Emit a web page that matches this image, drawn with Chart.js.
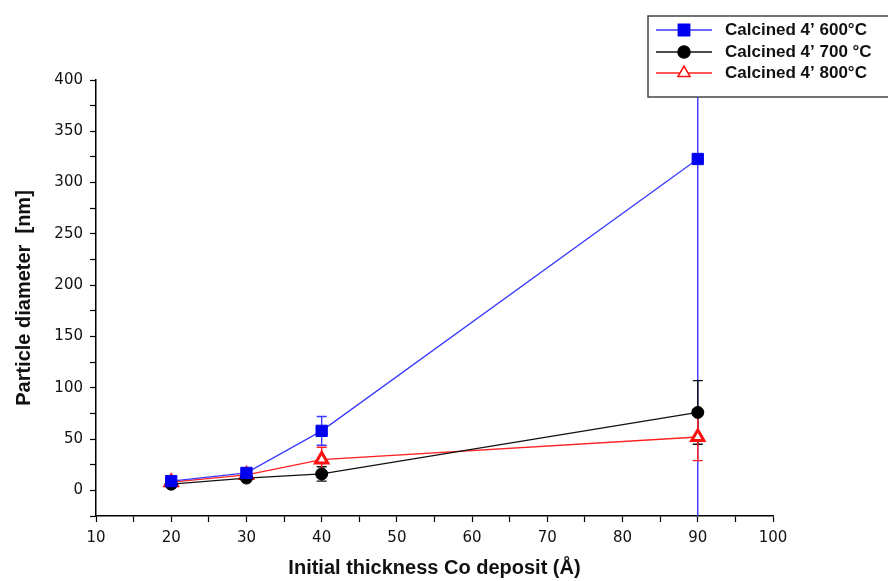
<!DOCTYPE html>
<html>
<head>
<meta charset="utf-8">
<script src="https://cdn.jsdelivr.net/npm/chart.js@4/dist/chart.umd.min.js"></script>
<style>
  html, body { margin: 0; padding: 0; background: #fff; }
  #wrap { width: 888px; height: 581px; }
</style>
</head>
<body>
<div id="wrap"><canvas id="chart"></canvas></div>
<script>
const thickness = [20, 30, 40, 90];

const labels = ["Calcined 4\u2019 600\u00B0C", "Calcined 4\u2019 700 \u00B0C", "Calcined 4\u2019 800\u00B0C"];

const size600 = [9, 17, 58, 323];
const err600 = [3, 3, 14, 360];

const size700 = [6, 12, 16, 76];
const err700 = [2, 2, 7, 31];

const size800 = [8, 15, 30, 52];
const err800 = [2, 3, 12, 23];

const toPoints = values => thickness.map((t, i) => ({ x: t, y: values[i] }));

const tickFont = { family: "DejaVu Sans", size: 15 };
const titleFont = { family: "Liberation Sans", size: 20, weight: "bold" };

// error bars, drawn under the points and clipped to the plot
const errorBars = {
  id: "errorBars",
  beforeDatasetsDraw(chart) {
    const { ctx, chartArea, scales: { x, y } } = chart;
    ctx.save();
    ctx.beginPath();
    ctx.rect(chartArea.left, chartArea.top, chartArea.right - chartArea.left, chartArea.bottom - chartArea.top);
    ctx.clip();
    chart.data.datasets.forEach(ds => {
      ctx.strokeStyle = ds.borderColor;
      ctx.lineWidth = 1.4;
      ds.data.forEach((p, i) => {
        const e = ds.errors[i];
        const px = x.getPixelForValue(p.x);
        const top = y.getPixelForValue(p.y + e);
        const bot = y.getPixelForValue(p.y - e);
        ctx.beginPath();
        ctx.moveTo(px, top);
        ctx.lineTo(px, bot);
        ctx.moveTo(px - 5, top);
        ctx.lineTo(px + 5, top);
        ctx.moveTo(px - 5, bot);
        ctx.lineTo(px + 5, bot);
        ctx.stroke();
      });
    });
    ctx.restore();
  }
};

// boxed legend with line + marker samples
const boxLegend = {
  id: "boxLegend",
  afterDraw(chart) {
    const ctx = chart.ctx;
    ctx.save();
    ctx.fillStyle = "#fff";
    ctx.strokeStyle = "#444";
    ctx.lineWidth = 1.5;
    ctx.fillRect(648, 16, 250, 81);
    ctx.strokeRect(648, 16, 250, 81);
    const rows = [30, 52, 73];
    chart.data.datasets.forEach((ds, i) => {
      const ry = rows[i];
      ctx.strokeStyle = ds.borderColor;
      ctx.lineWidth = 1.5;
      ctx.beginPath();
      ctx.moveTo(656, ry);
      ctx.lineTo(712, ry);
      ctx.stroke();
      ctx.fillStyle = ds.pointBackgroundColor;
      ctx.strokeStyle = ds.pointBorderColor;
      Chart.helpers.drawPoint(ctx, {
        pointStyle: ds.pointStyle,
        radius: ds.pointRadius,
        rotation: 0,
        borderWidth: ds.pointBorderWidth
      }, 684, ry);
      ctx.fillStyle = "#111";
      ctx.font = "bold 17px 'Liberation Sans'";
      ctx.textBaseline = "middle";
      ctx.textAlign = "left";
      ctx.fillText(ds.label, 725, ry);
    });
    ctx.restore();
  }
};

new Chart(document.getElementById("chart"), {
  type: "line",
  data: {
    datasets: [
      {
        label: labels[0],
        data: toPoints(size600),
        errors: err600,
        borderColor: "#3a3aff",
        borderWidth: 1.3,
        pointStyle: "rect",
        pointRadius: 8,
        pointBackgroundColor: "#0000f0",
        pointBorderColor: "#0000f0",
        pointBorderWidth: 1
      },
      {
        label: labels[1],
        data: toPoints(size700),
        errors: err700,
        borderColor: "#111",
        borderWidth: 1.3,
        pointStyle: "circle",
        pointRadius: 6,
        pointBackgroundColor: "#000",
        pointBorderColor: "#000",
        pointBorderWidth: 1
      },
      {
        label: labels[2],
        data: toPoints(size800),
        errors: err800,
        borderColor: "#ff2020",
        borderWidth: 1.3,
        pointStyle: "triangle",
        pointRadius: 7,
        pointBackgroundColor: "#fff",
        pointBorderColor: "#ff1010",
        pointBorderWidth: 3
      }
    ]
  },
  options: {
    responsive: true,
    maintainAspectRatio: false,
    animation: false,
    layout: { padding: { top: 80, right: 115, left: 0, bottom: 0 } },
    plugins: {
      legend: { display: false },
      tooltip: { enabled: false }
    },
    scales: {
      x: {
        type: "linear",
        min: 10,
        max: 100,
        afterFit: s => { s.height = 65; },
        ticks: {
          stepSize: 5,
          autoSkip: false,
          maxRotation: 0,
          padding: 7,
          color: "#111",
          font: tickFont,
          callback: v => (v % 10 === 0 ? v : "")
        },
        grid: { drawOnChartArea: false, tickLength: 6, color: "#000", tickWidth: 1.2 },
        border: { color: "#000", width: 1.5 },
        title: {
          display: true,
          text: "Initial thickness Co deposit (\u00C5)",
          color: "#111",
          font: titleFont,
          padding: { top: 0, bottom: 1 }
        }
      },
      y: {
        min: -25,
        max: 400,
        afterFit: s => { s.width = 96; },
        ticks: {
          stepSize: 25,
          autoSkip: false,
          padding: 7,
          color: "#111",
          font: tickFont,
          callback: v => (v % 50 === 0 ? v : "")
        },
        grid: { drawOnChartArea: false, tickLength: 6, color: "#000", tickWidth: 1.2 },
        border: { color: "#000", width: 1.5 },
        title: {
          display: true,
          text: "Particle diameter  [nm]",
          color: "#111",
          font: titleFont,
          padding: { top: 12, bottom: 0 }
        }
      }
    }
  },
  plugins: [errorBars, boxLegend]
});
</script>
</body>
</html>
